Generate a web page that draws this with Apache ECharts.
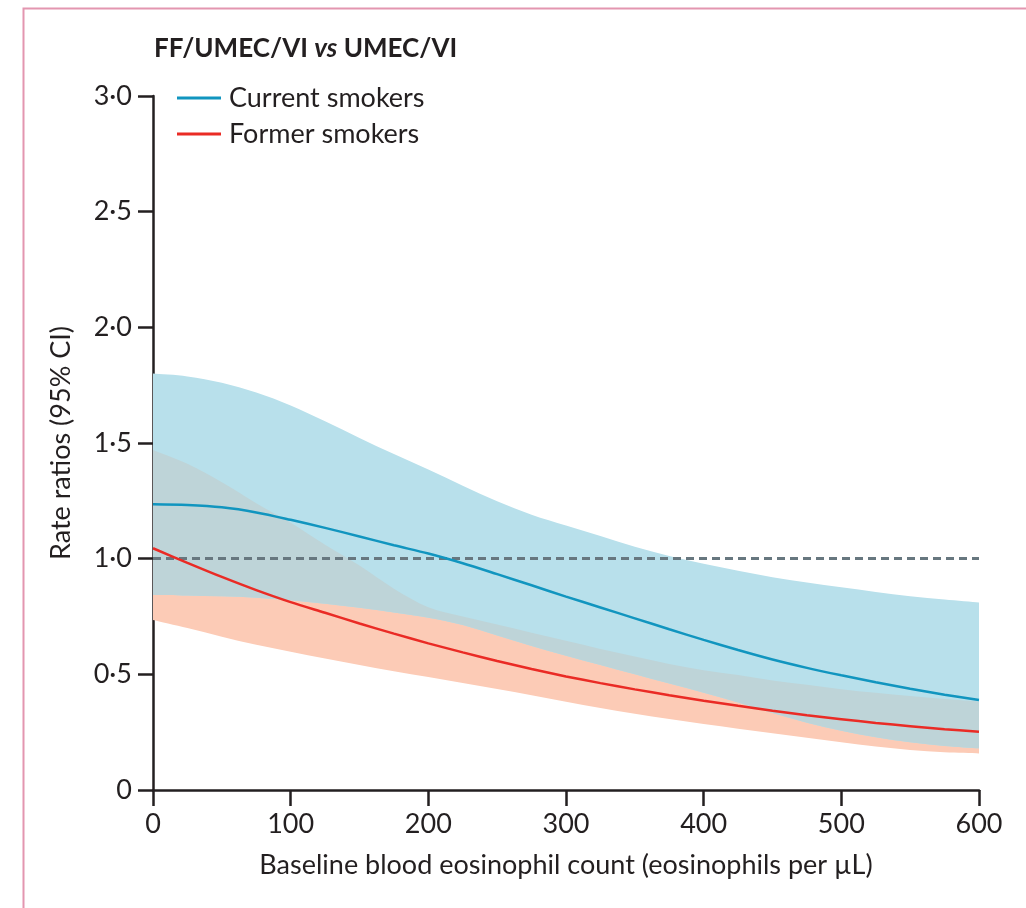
<!DOCTYPE html>
<html>
<head>
<meta charset="utf-8">
<script src="https://cdn.jsdelivr.net/npm/echarts@6/dist/echarts.min.js"></script>
<style>
  html, body { margin: 0; padding: 0; background: #ffffff; }
  #chart { width: 1026px; height: 908px; }
</style>
</head>
<body>
<div id="chart"></div>
<script>
// Baseline blood eosinophil count (eosinophils per µL)
const eosinophils = [0, 25, 50, 75, 100, 125, 150, 175, 200, 225, 250, 275, 300,
                     325, 350, 375, 400, 425, 450, 475, 500, 525, 550, 575, 600];

// Current smokers: rate ratio with 95% CI
const currentRate  = [1.235, 1.232, 1.222, 1.200, 1.168, 1.133, 1.096, 1.058, 1.022, 0.980, 0.933, 0.885, 0.836,
                      0.789, 0.742, 0.695, 0.649, 0.605, 0.564, 0.528, 0.496, 0.466, 0.438, 0.412, 0.389];
const currentLower = [0.843, 0.841, 0.837, 0.831, 0.820, 0.805, 0.788, 0.767, 0.745, 0.713, 0.668, 0.622, 0.580,
                      0.540, 0.500, 0.460, 0.420, 0.378, 0.333, 0.291, 0.256, 0.228, 0.206, 0.190, 0.180];
const currentUpper = [1.800, 1.788, 1.760, 1.718, 1.662, 1.594, 1.522, 1.452, 1.385, 1.315, 1.248, 1.190, 1.143,
                      1.098, 1.052, 1.012, 0.978, 0.948, 0.920, 0.897, 0.876, 0.856, 0.838, 0.823, 0.810];

// Former smokers: rate ratio with 95% CI
const formerRate  = [1.045, 0.982, 0.921, 0.864, 0.812, 0.766, 0.720, 0.676, 0.634, 0.595, 0.558, 0.523, 0.491,
                     0.462, 0.435, 0.410, 0.386, 0.364, 0.343, 0.323, 0.306, 0.290, 0.276, 0.263, 0.252];
const formerLower = [0.735, 0.700, 0.663, 0.628, 0.598, 0.568, 0.540, 0.513, 0.488, 0.463, 0.437, 0.410, 0.382,
                     0.355, 0.330, 0.307, 0.285, 0.265, 0.245, 0.226, 0.206, 0.188, 0.173, 0.163, 0.158];
const formerUpper = [1.470, 1.410, 1.330, 1.240, 1.155, 1.060, 0.970, 0.870, 0.790, 0.750, 0.715, 0.680, 0.645,
                     0.610, 0.577, 0.545, 0.518, 0.497, 0.473, 0.455, 0.436, 0.420, 0.406, 0.393, 0.382];

// Reference line: no difference between treatments
const noEffect = 1.0;

const seriesNames = ['Current smokers', 'Former smokers'];

const FONT = 'Lato, "Open Sans", "Liberation Sans", sans-serif';
const INK = '#231f20';
const BLUE_LINE = '#1195bf';
const RED_LINE = '#ea2b25';
const BLUE_FILL = '#b8e0eb';
const SALMON_FILL = '#fccbb6';
const OVERLAP_FILL = '#bed4d8';

// Where the two confidence bands overlap
const overlapLower = currentLower.map((v, i) => Math.max(v, formerLower[i]));
const overlapUpper = currentUpper.map((v, i) => Math.min(v, formerUpper[i]));

function pairs(ys) { return eosinophils.map((x, i) => [x, ys[i]]); }

// Smooth path through pixel points (Catmull-Rom converted to cubic Bezier)
function curve(pts, cmd) {
  let d = cmd + pts[0][0] + ' ' + pts[0][1];
  for (let i = 0; i < pts.length - 1; i++) {
    const p0 = pts[Math.max(i - 1, 0)], p1 = pts[i], p2 = pts[i + 1], p3 = pts[Math.min(i + 2, pts.length - 1)];
    const c1 = [p1[0] + (p2[0] - p0[0]) / 6, p1[1] + (p2[1] - p0[1]) / 6];
    const c2 = [p2[0] - (p3[0] - p1[0]) / 6, p2[1] - (p3[1] - p1[1]) / 6];
    d += ' C' + c1[0] + ' ' + c1[1] + ' ' + c2[0] + ' ' + c2[1] + ' ' + p2[0] + ' ' + p2[1];
  }
  return d;
}

// Confidence band drawn as a filled region between lower and upper limits
function band(lo, hi, color) {
  return {
    type: 'custom', silent: true, z: 1, clip: false,
    data: [[0, 0]],
    encode: { x: 0, y: 1 },
    renderItem: (params, api) => {
      const top = eosinophils.map((x, i) => api.coord([x, hi[i]]));
      const bot = eosinophils.map((x, i) => api.coord([x, lo[i]])).reverse();
      return {
        type: 'path',
        shape: { pathData: curve(top, 'M') + ' ' + curve(bot, 'L') + ' Z' },
        style: { fill: color }
      };
    }
  };
}

const chart = echarts.init(document.getElementById('chart'), null, { renderer: 'canvas' });

chart.setOption({
  animation: false,
  backgroundColor: '#ffffff',
  graphic: [{
    type: 'rect', left: 21, top: 6, silent: true,
    shape: { width: 1100, height: 1000 },
    style: { fill: 'none', stroke: '#e396b0', lineWidth: 2 }
  }],
  title: {
    left: 149, top: 31,
    text: '{b|FF/UMEC/VI }{i|vs}{b| UMEC/VI}',
    textStyle: {
      rich: {
        b: { fontFamily: FONT, fontSize: 26, fontWeight: 'bold', color: INK },
        i: { fontFamily: FONT, fontSize: 26, fontWeight: 'bold', fontStyle: 'italic', color: INK }
      }
    }
  },
  legend: {
    data: seriesNames,
    orient: 'vertical',
    left: 172, top: 78,
    icon: 'rect', itemWidth: 44, itemHeight: 3, itemGap: 6,
    textStyle: { fontFamily: FONT, fontSize: 27, color: INK, lineHeight: 30, padding: [0, 0, 0, 3] }
  },
  grid: { left: 153, right: 47, top: 96, bottom: 118, containLabel: false },
  xAxis: {
    type: 'value', min: 0, max: 600, interval: 100,
    name: 'Baseline blood eosinophil count (eosinophils per µL)',
    nameLocation: 'middle', nameGap: 62,
    nameTextStyle: { fontFamily: FONT, fontSize: 27, color: INK },
    axisLine: { lineStyle: { color: INK, width: 2.5 } },
    axisTick: { length: 16, lineStyle: { color: INK, width: 2.5 } },
    axisLabel: { fontFamily: FONT, fontSize: 27, color: INK, margin: 21 },
    splitLine: { show: false }
  },
  yAxis: {
    type: 'value', min: 0, max: 3, interval: 0.5,
    name: 'Rate ratios (95% CI)',
    nameLocation: 'middle', nameGap: 78,
    nameTextStyle: { fontFamily: FONT, fontSize: 27, color: INK },
    axisLine: { show: true, lineStyle: { color: INK, width: 2.5 } },
    axisTick: { show: true, length: 15, lineStyle: { color: INK, width: 2.5 } },
    axisLabel: {
      fontFamily: FONT, fontSize: 27, color: INK, margin: 21,
      formatter: v => v === 0 ? '0' : v.toFixed(1).replace('.', '·')
    },
    splitLine: { show: false }
  },
  series: [
    band(formerLower, formerUpper, SALMON_FILL),
    band(currentLower, currentUpper, BLUE_FILL),
    band(overlapLower, overlapUpper, OVERLAP_FILL),
    {
      name: seriesNames[0], type: 'line', data: pairs(currentRate), symbol: 'none', smooth: 0.3,
      itemStyle: { color: BLUE_LINE }, lineStyle: { color: BLUE_LINE, width: 2.5 }, z: 5,
      markLine: {
        silent: true, symbol: 'none', label: { show: false },
        lineStyle: { color: '#67777f', width: 3, type: [8, 5] },
        data: [{ yAxis: noEffect }]
      }
    },
    {
      name: seriesNames[1], type: 'line', data: pairs(formerRate), symbol: 'none', smooth: 0.3,
      itemStyle: { color: RED_LINE }, lineStyle: { color: RED_LINE, width: 2.5 }, z: 5
    }
  ]
});
</script>
</body>
</html>
